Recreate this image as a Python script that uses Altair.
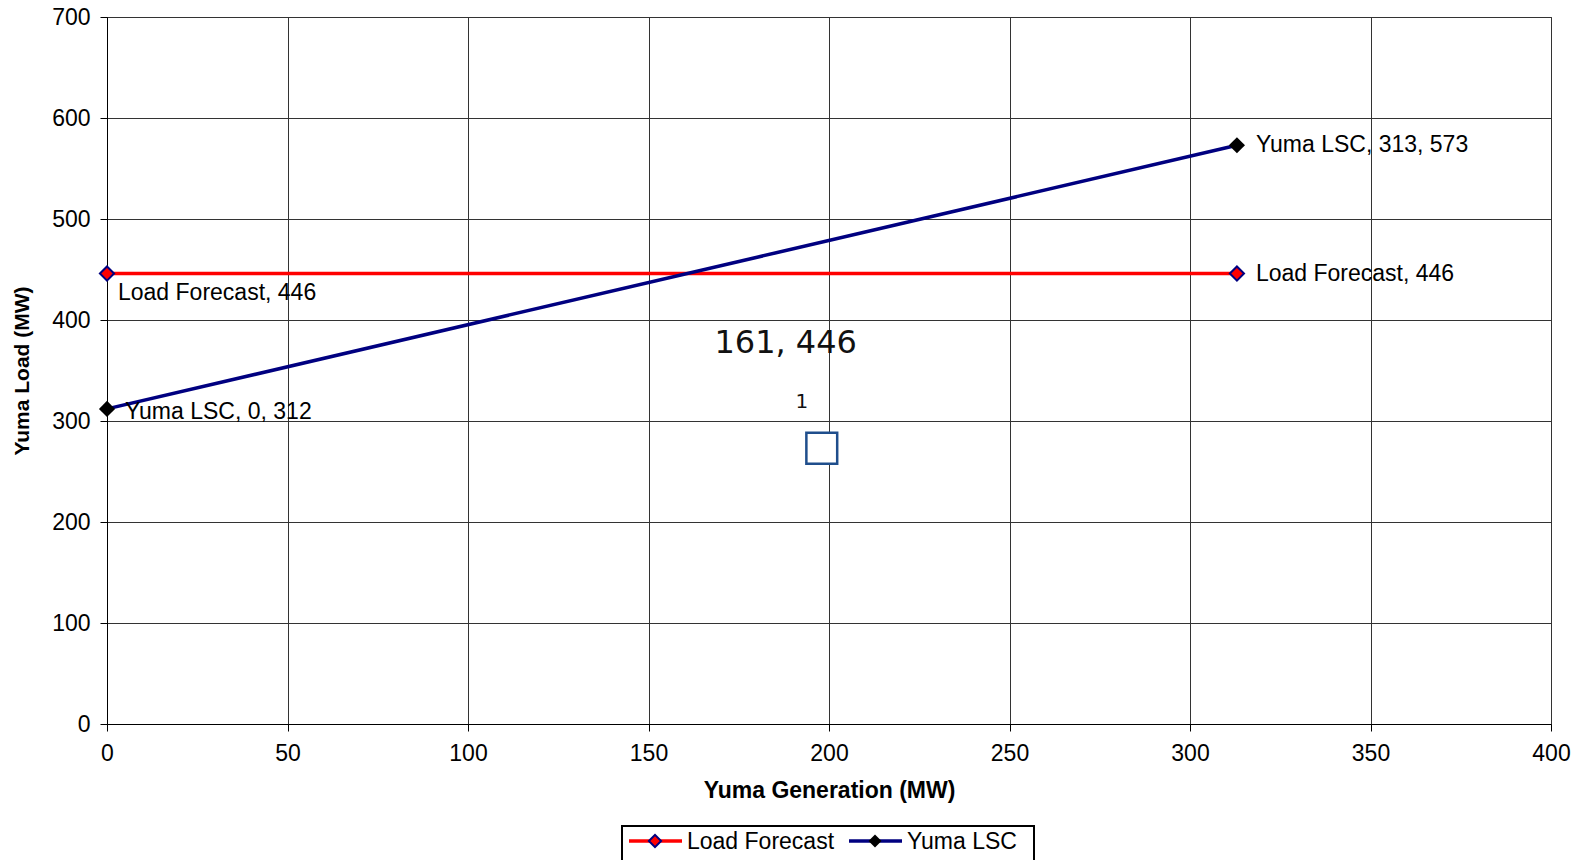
import altair as alt
import pandas as pd

# ---- data ----
lf_x = [0, 313]
lf_y = [446, 446]
lsc_x = [0, 313]
lsc_y = [312, 573]
box_x = [198]
box_y = [273]
x_ticks = [0, 50, 100, 150, 200, 250, 300, 350, 400]
y_ticks = [0, 100, 200, 300, 400, 500, 600, 700]

W, H = 1444, 707
FONT = "Liberation Sans"
FS = 23

lf = pd.DataFrame({"x": lf_x, "y": lf_y})
lsc = pd.DataFrame({"x": lsc_x, "y": lsc_y})
lf["label"] = [f"Load Forecast, {v}" for v in lf_y]
lsc["label"] = [f"Yuma LSC, {a}, {b}" for a, b in zip(lsc_x, lsc_y)]
box = pd.DataFrame({"x": box_x, "y": box_y})
ann = pd.DataFrame({"x": [188, 192.5], "y": [377, 319], "t": ["161, 446", "1"]})

xs = alt.Scale(domain=[0, 400], nice=False)
ys = alt.Scale(domain=[0, 700], nice=False)
X = alt.X("x:Q", scale=xs, axis=alt.Axis(values=x_ticks, title="Yuma Generation (MW)",
                                         titleY=66, titleBaseline="middle", labelPadding=11,
                                         labelFlush=False))
Y = alt.Y("y:Q", scale=ys, axis=alt.Axis(values=y_ticks, title="Yuma Load (MW)",
                                         titleAngle=270, titleX=-85, titleY=H / 2,
                                         titleAlign="center", titleBaseline="middle",
                                         titleFontSize=21,
                                         labelPadding=10, labelFlush=False))
Xn = alt.X("x:Q", scale=xs)
Yn = alt.Y("y:Q", scale=ys)

lf_line = alt.Chart(lf).mark_line(color="#FF0000", strokeWidth=3.5).encode(x=X, y=Y)
lsc_line = alt.Chart(lsc).mark_line(color="#000080", strokeWidth=3.5).encode(x=Xn, y=Yn)
lf_pts = alt.Chart(lf).mark_point(shape="diamond", filled=True, fill="#FF0000", stroke="#000080",
                                  strokeWidth=2, size=200, opacity=1).encode(x=Xn, y=Yn)
lsc_pts = alt.Chart(lsc).mark_point(shape="diamond", filled=True, color="#000000", size=260,
                                    opacity=1).encode(x=Xn, y=Yn)

tx = dict(font=FONT, fontSize=FS, color="black", align="left", baseline="middle")
lf_l0 = alt.Chart(lf.iloc[[0]]).mark_text(dx=11, dy=19, **tx).encode(x=Xn, y=Yn, text="label:N")
lf_l1 = alt.Chart(lf.iloc[[1]]).mark_text(dx=19, dy=0, **tx).encode(x=Xn, y=Yn, text="label:N")
lsc_l0 = alt.Chart(lsc.iloc[[0]]).mark_text(dx=18, dy=3, **tx).encode(x=Xn, y=Yn, text="label:N")
lsc_l1 = alt.Chart(lsc.iloc[[1]]).mark_text(dx=19, dy=0, **tx).encode(x=Xn, y=Yn, text="label:N")

box_mark = alt.Chart(box).mark_point(shape="square", filled=False, fill="white", stroke="#1F4E8C",
                                     strokeWidth=2.5, size=950, opacity=1).encode(x=Xn, y=Yn)
ann_big = alt.Chart(ann.iloc[[0]]).mark_text(font="DejaVu Sans", fontSize=32, color="#111",
                                             align="center", baseline="middle").encode(
    x=Xn, y=Yn, text="t:N")
ann_small = alt.Chart(ann.iloc[[1]]).mark_text(font="DejaVu Sans", fontSize=20, color="#111",
                                               align="center", baseline="middle").encode(
    x=Xn, y=Yn, text="t:N")

# ---- legend (drawn manually below the plot) ----
leg_items = pd.DataFrame({"name": ["Load Forecast", "Yuma LSC"]})
one = pd.DataFrame({"k": [0]})
leg_box = alt.Chart(one).mark_rect(fill="white", stroke="black", strokeWidth=2).encode(
    x=alt.value(515), x2=alt.value(927), y=alt.value(809), y2=alt.value(846))
leg_l1 = alt.Chart(one).mark_rule(color="#FF0000", strokeWidth=3.5).encode(
    x=alt.value(522), x2=alt.value(575), y=alt.value(824))
leg_p1 = alt.Chart(one).mark_point(shape="diamond", filled=True, fill="#FF0000", stroke="#000080",
                                   strokeWidth=2, size=150, opacity=1).encode(
    x=alt.value(548), y=alt.value(824))
leg_t1 = alt.Chart(leg_items.iloc[[0]]).mark_text(**tx).encode(
    x=alt.value(580), y=alt.value(825), text="name:N")
leg_l2 = alt.Chart(one).mark_rule(color="#000080", strokeWidth=3.5).encode(
    x=alt.value(742), x2=alt.value(795), y=alt.value(824))
leg_p2 = alt.Chart(one).mark_point(shape="diamond", filled=True, color="#000000",
                                   size=170, opacity=1).encode(
    x=alt.value(768), y=alt.value(824))
leg_t2 = alt.Chart(leg_items.iloc[[1]]).mark_text(**tx).encode(
    x=alt.value(800), y=alt.value(825), text="name:N")

chart = alt.layer(
    lf_line, lsc_line, lf_pts, lsc_pts, lf_l0, lf_l1, lsc_l0, lsc_l1,
    box_mark, ann_big, ann_small,
    leg_box, leg_l1, leg_p1, leg_t1, leg_l2, leg_p2, leg_t2,
).properties(
    width=W, height=H,
    autosize=alt.AutoSizeParams(type="none"),
    padding={"left": 107, "top": 17, "right": 28, "bottom": 136},
    background="white",
).configure_axis(
    domainColor="black", domainWidth=1, tickColor="black", tickSize=7, tickWidth=1,
    gridColor="#333333", gridWidth=1, gridOpacity=1,
    labelFont=FONT, labelFontSize=FS, labelColor="black",
    titleFont=FONT, titleFontSize=23, titleFontWeight="bold", titleColor="black",
).configure_view(stroke="#333333", strokeWidth=1)

chart.save("out.html", embed_options={"renderer": "svg", "actions": False})
